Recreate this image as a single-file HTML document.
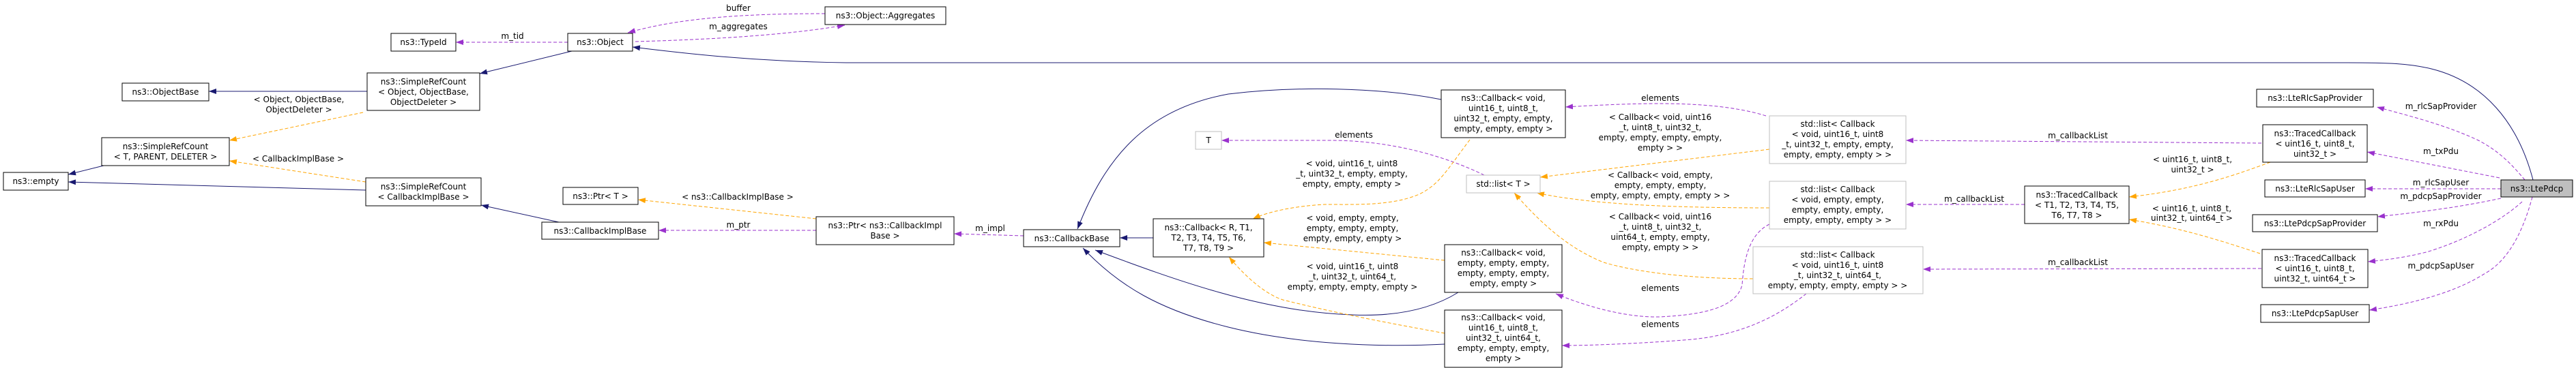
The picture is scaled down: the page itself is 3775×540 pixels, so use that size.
<!DOCTYPE html>
<html><head><meta charset="utf-8"><style>
html,body{margin:0;padding:0;background:#fff;}
svg{display:block;}
text{font-family:"DejaVu Sans","Liberation Sans",sans-serif;font-size:12px;fill:#000;}
.n{fill:#fff;stroke:#000;stroke-width:1;}
.g{fill:#fff;stroke:#bfbfbf;stroke-width:1;}
.s{fill:none;stroke:#191970;stroke-width:1;}
.p{fill:none;stroke:#9a32cd;stroke-width:1;stroke-dasharray:5,3;}
.o{fill:none;stroke:#ffa500;stroke-width:1;stroke-dasharray:5,3;}
</style></head><body>
<svg width="3775" height="540" viewBox="0 0 3775 540" xmlns="http://www.w3.org/2000/svg">
<defs>
<marker id="ms" markerWidth="12" markerHeight="10" refX="11" refY="4" orient="auto" markerUnits="userSpaceOnUse"><path d="M0,0 L11,4 L0,8 z" fill="#191970"/></marker>
<marker id="mp" markerWidth="12" markerHeight="10" refX="11" refY="4" orient="auto" markerUnits="userSpaceOnUse"><path d="M0,0 L11,4 L0,8 z" fill="#9a32cd"/></marker>
<marker id="mo" markerWidth="12" markerHeight="10" refX="11" refY="4" orient="auto" markerUnits="userSpaceOnUse"><path d="M0,0 L11,4 L0,8 z" fill="#ffa500"/></marker>
</defs>

<!-- solid edges -->
<path class="s" marker-end="url(#ms)" d="M538,134 L306,134"/>
<path class="s" marker-end="url(#ms)" d="M152,243 L100,256"/>
<path class="s" marker-end="url(#ms)" d="M536,279 L100,267"/>
<path class="s" marker-end="url(#ms)" d="M838,75 L703,108"/>
<path class="s" marker-end="url(#ms)" d="M819,326 L705,301"/>
<path class="s" marker-end="url(#ms)" d="M3712,264 C3690,180 3640,120 3563,101 C3530,93 3500,92 3440,92 L1240,92 C1100,90 1000,78 927,69"/>
<path class="s" marker-end="url(#ms)" d="M1690,349 L1641,349"/>
<path class="s" marker-end="url(#ms)" d="M2112,146 C2020,128 1900,126 1800,138 C1680,160 1620,230 1579,336"/>
<path class="s" marker-end="url(#ms)" d="M2137,429 C2100,452 2050,465 1982,462 C1850,458 1720,410 1605,367"/>
<path class="s" marker-end="url(#ms)" d="M2117,505 C2020,510 1900,505 1800,480 C1700,455 1640,420 1587,364"/>

<!-- purple edges -->
<path class="p" marker-end="url(#mp)" d="M832,62 L668,62"/>
<path class="p" marker-end="url(#mp)" d="M1209,20 C1100,20 1000,25 920,48"/>
<path class="p" marker-end="url(#mp)" d="M931,61 C1040,58 1150,52 1238,37"/>
<path class="p" marker-end="url(#mp)" d="M1196,338 L965,338"/>
<path class="p" marker-end="url(#mp)" d="M1500,346 L1398,343"/>
<path class="p" marker-end="url(#mp)" d="M2175,257 C2120,230 2040,206 1950,206 L1790,206"/>
<path class="p" marker-end="url(#mp)" d="M2588,170 C2540,155 2480,152 2431,152 C2380,152 2330,155 2294,157"/>
<path class="p" marker-end="url(#mp)" d="M2593,329 C2560,345 2555,390 2553,418 C2545,450 2500,462 2431,465 C2380,466 2320,448 2280,431"/>
<path class="p" marker-end="url(#mp)" d="M2647,431 C2610,460 2560,490 2480,498 C2420,503 2340,507 2289,507"/>
<path class="p" marker-end="url(#mp)" d="M3314,210 L2793,206"/>
<path class="p" marker-end="url(#mp)" d="M2967,300 L2793,300"/>
<path class="p" marker-end="url(#mp)" d="M3314,394 L2818,395"/>
<path class="p" marker-end="url(#mp)" d="M3700,264 C3680,240 3660,220 3630,205 C3580,182 3530,170 3483,157"/>
<path class="p" marker-end="url(#mp)" d="M3663,261 L3469,223"/>
<path class="p" marker-end="url(#mp)" d="M3665,277 L3466,277"/>
<path class="p" marker-end="url(#mp)" d="M3665,291 C3600,305 3540,312 3484,318"/>
<path class="p" marker-end="url(#mp)" d="M3696,296 C3670,320 3620,350 3559,369 C3530,377 3500,381 3470,384"/>
<path class="p" marker-end="url(#mp)" d="M3711,289 C3700,330 3680,380 3642,401 C3600,428 3540,445 3472,455"/>

<!-- orange edges -->
<path class="o" marker-end="url(#mo)" d="M532,165 L336,206"/>
<path class="o" marker-end="url(#mo)" d="M536,267 L336,236"/>
<path class="o" marker-end="url(#mo)" d="M1196,321 L935,293"/>
<path class="o" marker-end="url(#mo)" d="M2154,205 C2120,250 2110,270 2080,285 C2040,302 1990,300 1942,300 C1900,302 1860,310 1836,321"/>
<path class="o" marker-end="url(#mo)" d="M2117,382 L1852,356"/>
<path class="o" marker-end="url(#mo)" d="M2117,489 C2040,475 1960,460 1880,440 C1850,430 1820,400 1801,377"/>
<path class="o" marker-end="url(#mo)" d="M2593,219 L2257,260"/>
<path class="o" marker-end="url(#mo)" d="M2593,305 C2450,305 2330,300 2252,283"/>
<path class="o" marker-end="url(#mo)" d="M2569,409 C2480,409 2400,400 2350,385 C2300,365 2260,330 2219,283"/>
<path class="o" marker-end="url(#mo)" d="M3327,238 C3280,255 3220,278 3120,289"/>
<path class="o" marker-end="url(#mo)" d="M3312,372 C3260,355 3200,335 3120,322"/>

<!-- nodes -->
<rect class="n" x="573" y="49" width="95" height="26"/><text x="620.5" y="66" text-anchor="middle">ns3::TypeId</text>
<rect class="n" x="832" y="49" width="95" height="26"/><text x="879.5" y="66" text-anchor="middle">ns3::Object</text>
<rect class="n" x="1209" y="10" width="177" height="26"/><text x="1297.5" y="27" text-anchor="middle">ns3::Object::Aggregates</text>
<rect class="n" x="179" y="122" width="127" height="26"/><text x="242.5" y="139" text-anchor="middle">ns3::ObjectBase</text>
<rect class="n" x="538" y="107" width="165" height="55"/><text x="620.5" text-anchor="middle"><tspan x="620.5" y="124">ns3::SimpleRefCount</tspan><tspan x="620.5" y="139">&lt; Object, ObjectBase,</tspan><tspan x="620.5" y="154">ObjectDeleter &gt;</tspan></text>
<rect class="n" x="149" y="202" width="187" height="41"/><text x="242.5" text-anchor="middle"><tspan x="242.5" y="219">ns3::SimpleRefCount</tspan><tspan x="242.5" y="234">&lt; T, PARENT, DELETER &gt;</tspan></text>
<rect class="n" x="5" y="253" width="95" height="26"/><text x="52.5" y="270" text-anchor="middle">ns3::empty</text>
<rect class="n" x="536" y="261" width="169" height="41"/><text text-anchor="middle"><tspan x="620.5" y="278">ns3::SimpleRefCount</tspan><tspan x="620.5" y="293">&lt; CallbackImplBase &gt;</tspan></text>
<rect class="n" x="825" y="275" width="110" height="25"/><text x="880" y="292" text-anchor="middle">ns3::Ptr&lt; T &gt;</text>
<rect class="n" x="794" y="326" width="171" height="25"/><text x="879.5" y="343" text-anchor="middle">ns3::CallbackImplBase</text>
<rect class="n" x="1196" y="318" width="202" height="41"/><text text-anchor="middle"><tspan x="1297" y="335">ns3::Ptr&lt; ns3::CallbackImpl</tspan><tspan x="1297" y="350">Base &gt;</tspan></text>
<rect class="g" x="1752" y="193" width="38" height="26"/><text x="1771" y="210" text-anchor="middle">T</text>
<rect class="n" x="1500" y="337" width="141" height="25"/><text x="1570.5" y="354" text-anchor="middle">ns3::CallbackBase</text>
<rect class="n" x="1690" y="321" width="162" height="56"/><text text-anchor="middle"><tspan x="1771" y="338">ns3::Callback&lt; R, T1,</tspan><tspan x="1771" y="353">T2, T3, T4, T5, T6,</tspan><tspan x="1771" y="368">T7, T8, T9 &gt;</tspan></text>
<rect class="n" x="2112" y="132" width="182" height="70"/><text text-anchor="middle"><tspan x="2203" y="148">ns3::Callback&lt; void,</tspan><tspan x="2203" y="163">uint16_t, uint8_t,</tspan><tspan x="2203" y="178">uint32_t, empty, empty,</tspan><tspan x="2203" y="193">empty, empty, empty &gt;</tspan></text>
<rect class="g" x="2149" y="257" width="108" height="26"/><text x="2203" y="274" text-anchor="middle">std::list&lt; T &gt;</text>
<rect class="n" x="2117" y="359" width="172" height="70"/><text text-anchor="middle"><tspan x="2203" y="375">ns3::Callback&lt; void,</tspan><tspan x="2203" y="390">empty, empty, empty,</tspan><tspan x="2203" y="405">empty, empty, empty,</tspan><tspan x="2203" y="420">empty, empty &gt;</tspan></text>
<rect class="n" x="2117" y="455" width="172" height="84"/><text text-anchor="middle"><tspan x="2203" y="470">ns3::Callback&lt; void,</tspan><tspan x="2203" y="485">uint16_t, uint8_t,</tspan><tspan x="2203" y="500">uint32_t, uint64_t,</tspan><tspan x="2203" y="515">empty, empty, empty,</tspan><tspan x="2203" y="530">empty &gt;</tspan></text>
<rect class="g" x="2593" y="170" width="200" height="70"/><text text-anchor="middle"><tspan x="2693" y="186">std::list&lt; Callback</tspan><tspan x="2693" y="201">&lt; void, uint16_t, uint8</tspan><tspan x="2693" y="216">_t, uint32_t, empty, empty,</tspan><tspan x="2693" y="231">empty, empty, empty &gt; &gt;</tspan></text>
<rect class="g" x="2593" y="266" width="200" height="70"/><text text-anchor="middle"><tspan x="2693" y="282">std::list&lt; Callback</tspan><tspan x="2693" y="297">&lt; void, empty, empty,</tspan><tspan x="2693" y="312">empty, empty, empty,</tspan><tspan x="2693" y="327">empty, empty, empty &gt; &gt;</tspan></text>
<rect class="g" x="2569" y="362" width="249" height="69"/><text text-anchor="middle"><tspan x="2693" y="378">std::list&lt; Callback</tspan><tspan x="2693" y="393">&lt; void, uint16_t, uint8</tspan><tspan x="2693" y="408">_t, uint32_t, uint64_t,</tspan><tspan x="2693" y="423">empty, empty, empty, empty &gt; &gt;</tspan></text>
<rect class="n" x="2967" y="273" width="153" height="55"/><text text-anchor="middle"><tspan x="3043.5" y="290">ns3::TracedCallback</tspan><tspan x="3043.5" y="305">&lt; T1, T2, T3, T4, T5,</tspan><tspan x="3043.5" y="320">T6, T7, T8 &gt;</tspan></text>
<rect class="n" x="3307" y="131" width="171" height="26"/><text x="3392.5" y="148" text-anchor="middle">ns3::LteRlcSapProvider</text>
<rect class="n" x="3316" y="183" width="153" height="55"/><text text-anchor="middle"><tspan x="3392.5" y="200">ns3::TracedCallback</tspan><tspan x="3392.5" y="215">&lt; uint16_t, uint8_t,</tspan><tspan x="3392.5" y="230">uint32_t &gt;</tspan></text>
<rect class="n" x="3319" y="264" width="147" height="25"/><text x="3392.5" y="281" text-anchor="middle">ns3::LteRlcSapUser</text>
<rect class="n" x="3301" y="315" width="183" height="25"/><text x="3392.5" y="332" text-anchor="middle">ns3::LtePdcpSapProvider</text>
<rect class="n" x="3315" y="366" width="155" height="56"/><text text-anchor="middle"><tspan x="3392.5" y="383">ns3::TracedCallback</tspan><tspan x="3392.5" y="398">&lt; uint16_t, uint8_t,</tspan><tspan x="3392.5" y="413">uint32_t, uint64_t &gt;</tspan></text>
<rect class="n" x="3313" y="447" width="159" height="26"/><text x="3392.5" y="464" text-anchor="middle">ns3::LtePdcpSapUser</text>
<rect x="3665" y="264" width="105" height="25" fill="#bfbfbf" stroke="#000"/><text x="3717.5" y="281" text-anchor="middle">ns3::LtePdcp</text>

<!-- edge labels -->
<g text-anchor="middle">
<text x="438" y="150">&lt; Object, ObjectBase,</text><text x="438" y="165">ObjectDeleter &gt;</text>
<text x="437" y="237">&lt; CallbackImplBase &gt;</text>
<text x="751" y="57">m_tid</text>
<text x="1082" y="16">buffer</text>
<text x="1082" y="43">m_aggregates</text>
<text x="1081" y="293">&lt; ns3::CallbackImplBase &gt;</text>
<text x="1082" y="334">m_ptr</text>
<text x="1451" y="339">m_impl</text>
<text x="1984" y="202">elements</text>
<text x="1981" y="244">&lt; void, uint16_t, uint8</text><text x="1981" y="259">_t, uint32_t, empty, empty,</text><text x="1981" y="274">empty, empty, empty &gt;</text>
<text x="1982" y="324">&lt; void, empty, empty,</text><text x="1982" y="339">empty, empty, empty,</text><text x="1982" y="354">empty, empty, empty &gt;</text>
<text x="1982" y="395">&lt; void, uint16_t, uint8</text><text x="1982" y="410">_t, uint32_t, uint64_t,</text><text x="1982" y="425">empty, empty, empty, empty &gt;</text>
<text x="2433" y="148">elements</text>
<text x="2433" y="176">&lt; Callback&lt; void, uint16</text><text x="2433" y="191">_t, uint8_t, uint32_t,</text><text x="2433" y="206">empty, empty, empty, empty,</text><text x="2433" y="221">empty &gt; &gt;</text>
<text x="2433" y="261">&lt; Callback&lt; void, empty,</text><text x="2433" y="276">empty, empty, empty,</text><text x="2433" y="291">empty, empty, empty, empty &gt; &gt;</text>
<text x="2433" y="322">&lt; Callback&lt; void, uint16</text><text x="2433" y="337">_t, uint8_t, uint32_t,</text><text x="2433" y="352">uint64_t, empty, empty,</text><text x="2433" y="367">empty, empty &gt; &gt;</text>
<text x="2433" y="427">elements</text>
<text x="2433" y="480">elements</text>
<text x="3045" y="203">m_callbackList</text>
<text x="2893" y="296">m_callbackList</text>
<text x="3045" y="389">m_callbackList</text>
<text x="3213" y="238">&lt; uint16_t, uint8_t,</text><text x="3213" y="253">uint32_t &gt;</text>
<text x="3212" y="310">&lt; uint16_t, uint8_t,</text><text x="3212" y="324">uint32_t, uint64_t &gt;</text>
<text x="3577" y="160">m_rlcSapProvider</text>
<text x="3577" y="226">m_txPdu</text>
<text x="3577" y="272">m_rlcSapUser</text>
<text x="3577" y="292">m_pdcpSapProvider</text>
<text x="3577" y="332">m_rxPdu</text>
<text x="3577" y="394">m_pdcpSapUser</text>
</g>
</svg>
</body></html>
